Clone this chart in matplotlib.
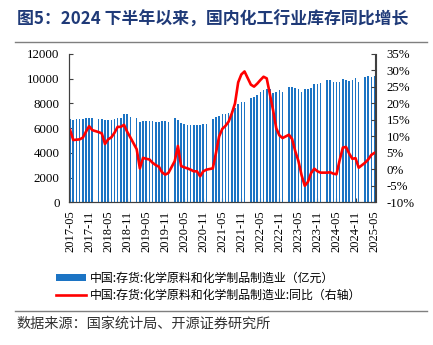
import matplotlib
matplotlib.use('Agg')
import matplotlib.pyplot as plt
import numpy as np
import pandas as pd
from matplotlib.patches import Patch
from matplotlib.lines import Line2D

# ---------------- data ----------------
months = (
    ['2017-%02d' % m for m in range(5, 13)] +
    ['%d-%02d' % (y, m) for y in range(2018, 2025) for m in range(2, 13)] +
    ['2025-%02d' % m for m in range(2, 6)]
)

inventory = [
    6730, 6650, 6700, 6700, 6730, 6800, 6860, 6800,                    # 2017
    6730, 6780, 6660, 6670, 6670, 6730, 6800, 6860, 7120, 7130, 6940,  # 2018
    6800, 6480, 6560, 6580, 6560, 6560, 6510, 6480, 6570, 6570, 6500,  # 2019
    6810, 6660, 6380, 6320, 6270, 6260, 6250, 6250, 6280, 6340, 6340,  # 2020
    6770, 6920, 7010, 7120, 7150, 7250, 7390, 7600, 7930, 8140, 8150,  # 2021
    8440, 8560, 8680, 8930, 9120, 9170, 9170, 8830, 8960, 9050, 8950,  # 2022
    9300, 9300, 9240, 9140, 8900, 9170, 9140, 9280, 9570, 9570, 9630,  # 2023
    9920, 9900, 9740, 9740, 9740, 9950, 9870, 9820, 9900, 10030, 9740, # 2024
    10170, 10220, 10170, 10190,                                        # 2025
]

yoy = [
    11.9, 8.9, 9.0, 9.1, 9.6, 11.4, 13.1, 11.9,                   # 2017
    11.3, 10.9, 7.7, 9.1, 9.7, 11.1, 12.9, 12.9, 13.5, 11.4, 9.7, # 2018
    6.1, 0.3, 3.5, 3.2, 3.0, 2.0, 1.3, 0.8, -0.9, -1.6, -1.1,     # 2019
    2.5, 7.1, 1.0, 0.6, 0.3, -0.1, -0.6, -0.6, -2.1, -0.6, -0.1,  # 2020
    0.3, 5.0, 10.0, 12.3, 13.2, 14.5, 17.0, 20.0, 26.4, 28.8, 29.7, # 2021
    25.7, 25.1, 26.0, 27.1, 28.1, 27.6, 22.8, 18.0, 12.5, 10.3, 9.5, # 2022
    10.5, 9.2, 5.5, 2.5, -1.8, -5.0, -3.8, -1.1, 0.2, -0.6, -1.0, # 2023
    -1.0, -0.9, -1.3, -1.5, 2.8, 6.6, 6.8, 4.8, 3.2, 3.4, 0.5,    # 2024
    2.0, 3.0, 4.4, 5.0,                                           # 2025
]

tick_labels = ['%d-%s' % (y, m) for y in range(2017, 2025) for m in ('05', '11')] + ['2025-05']

left_ticks = [0, 2000, 4000, 6000, 8000, 10000, 12000]
right_ticks = [-10, -5, 0, 5, 10, 15, 20, 25, 30, 35]

title = '图5：2024 下半年以来，国内化工行业库存同比增长'
label_bar = '中国:存货:化学原料和化学制品制造业（亿元）'
label_line = '中国:存货:化学原料和化学制品制造业:同比（右轴）'
source = '数据来源：国家统计局、开源证券研究所'

# ---------------- style ----------------
CJK = ['Noto Sans CJK SC', 'DejaVu Sans']
SERIF = ['Liberation Serif', 'DejaVu Serif']
BAR_C = '#1C74C4'
LINE_C = '#FF0000'
SPINE_C = '#404040'

full = pd.period_range('2017-05', '2025-05', freq='M')
pos = {str(p): i for i, p in enumerate(full)}
x = np.array([pos[m] for m in months])
tick_pos = [pos[t] for t in tick_labels]

W, H = 433, 345
fig = plt.figure(figsize=(W / 100, H / 100), dpi=100)
ax = fig.add_axes([69.3 / W, 1 - 202.3 / H, (375.5 - 69.3) / W, (202.3 - 54) / H])
ax2 = ax.twinx()

ax.bar(x, inventory, width=0.5, color=BAR_C, zorder=2, linewidth=0)
ax2.plot(x, yoy, color=LINE_C, lw=1.9, solid_joinstyle='round')

ax.set_xlim(-0.25, 96.3)
ax.set_ylim(0, 12000)
ax2.set_ylim(-10, 35)

ax.set_yticks(left_ticks)
ax.set_yticklabels([str(v) for v in left_ticks], fontfamily=SERIF, fontsize=9.3)
ax2.set_yticks(right_ticks)
ax2.set_yticklabels(['%d%%' % v for v in right_ticks], fontfamily=SERIF, fontsize=9.3)
ax.set_xticks(tick_pos)
ax.set_xticklabels(tick_labels, rotation=90, fontfamily=SERIF, fontsize=9.0)

for a in (ax, ax2):
    a.spines['top'].set_visible(False)
    for s in ('left', 'right', 'bottom'):
        a.spines[s].set_color(SPINE_C)
        a.spines[s].set_linewidth(0.8)
    a.tick_params(direction='in', length=3, width=0.8, color=SPINE_C, labelcolor='black')
ax.tick_params(axis='y', pad=7)
ax2.tick_params(axis='y', pad=8)
ax.tick_params(axis='x', pad=6)

# legend
handles = [Patch(facecolor=BAR_C, edgecolor='none'),
           Line2D([0], [0], color=LINE_C, lw=1.9)]
fig.legend(handles, [label_bar, label_line], loc='upper left',
           bbox_to_anchor=(56 / W, 1 - 272 / H), frameon=False,
           prop={'family': CJK, 'size': 8.6}, handlelength=2.5,
           handleheight=0.55, handletextpad=0.35, labelspacing=0.35,
           borderpad=0, borderaxespad=0)

# title, rules, source
fig.text(17 / W, 1 - 20 / H, title, fontfamily=CJK, fontsize=12.2, fontweight='bold',
         color='#1F3A78', va='center', ha='left')
fig.add_artist(Line2D([15 / W, 427 / W], [1 - 42 / H, 1 - 42 / H], color='#7F7F7F', lw=1.0))
fig.add_artist(Line2D([15 / W, 427 / W], [1 - 310.7 / H, 1 - 310.7 / H], color='#7F7F7F', lw=1.0))
fig.text(16 / W, 1 - 324 / H, source, fontfamily=CJK, fontsize=10.2, color='#333333',
         va='center', ha='left')

fig.savefig('out.png', dpi=100)
